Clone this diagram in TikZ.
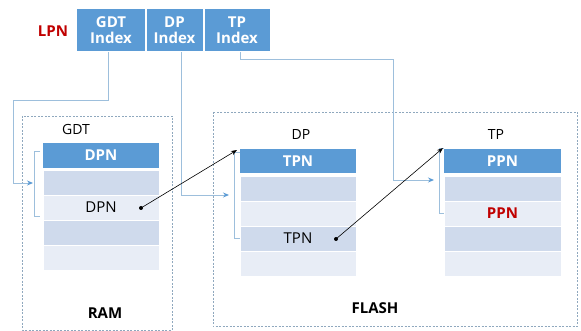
\documentclass[tikz,border=0pt]{standalone}
\usepackage{fontspec}
\setmainfont{Open Sans}
\usetikzlibrary{arrows.meta}
\definecolor{hdrblue}{HTML}{5B9BD5}
\definecolor{rowdark}{HTML}{CFDAEC}
\definecolor{rowlight}{HTML}{E8EDF6}
\definecolor{conn}{HTML}{9DBFDC}
\definecolor{dashc}{HTML}{8FA8BE}
\definecolor{lpnred}{HTML}{C00000}
\tikzset{
  idx/.style={rectangle, fill=hdrblue, draw=white, line width=0.8pt, inner sep=0pt, align=center,
     text=white, font=\fontsize{15}{18}\selectfont\bfseries},
  hdr/.style={rectangle, fill=hdrblue, inner sep=0pt, minimum height=24.5pt, text=white,
     font=\fontsize{15}{18}\selectfont\bfseries},
  rowd/.style={rectangle, fill=rowdark, draw=white, line width=0.8pt, inner sep=0pt, minimum height=25pt,
     font=\fontsize{15}{18}\selectfont},
  rowl/.style={rowd, fill=rowlight},
  lbl/.style={inner sep=0pt, font=\fontsize{14}{17}\selectfont},
  area/.style={draw=dashc, line width=0.7pt, dash pattern=on 2pt off 1.5pt},
  arealbl/.style={inner sep=0pt, font=\fontsize{15}{18}\selectfont\bfseries},
  link/.style={draw=conn, line width=0.9pt},
  linkarr/.style={link, -{Stealth[length=6pt,width=5pt,color=hdrblue]}},
  brk/.style={draw=conn, line width=0.9pt},
  ptr/.style={draw=black, line width=0.6pt, -{Stealth[length=6pt,width=4.5pt]}},
  dot/.style={circle, fill=black, inner sep=0pt, minimum size=4pt}
}
\begin{document}
\begin{tikzpicture}[x=1pt,y=-1pt]
\useasboundingbox (0,0) rectangle (581,331);

% areas
\draw[area] (22,116) rectangle (172,330);
\draw[area] (213,112) rectangle (577,326.5);
\node[arealbl] (ram) at (105,313) {RAM};
\node[arealbl] (flash) at (375,308) {FLASH};

% LPN
\node[inner sep=0pt, text=lpnred, font=\fontsize{15}{18}\selectfont\bfseries] (lpn) at (53,31) {LPN};
\node[idx, minimum width=69pt, minimum height=43.5pt] (gdti) at (111,30) {GDT\\[-2pt]Index};
\node[idx, minimum width=57pt, minimum height=43.5pt] (dpi) at (174.5,30) {DP\\[-2pt]Index};
\node[idx, minimum width=66pt, minimum height=43.5pt] (tpi) at (237,30) {TP\\[-2pt]Index};

% GDT table
\node[lbl] (gdtl) at (76,130) {GDT};
\node[hdr, minimum width=116pt] (g0) at (101,155.5) {DPN};
\node[rowd, minimum width=116pt] (g1) at (101,182.5) {};
\node[rowl, minimum width=116pt] (g2) at (101,207.5) {\mbox{}DPN\hspace{12pt}};
\node[rowd, minimum width=116pt] (g3) at (101,232.5) {};
\node[rowl, minimum width=116pt] (g4) at (101,257.5) {};

% DP table
\node[lbl] (dpl) at (301,135) {DP};
\node[hdr, minimum width=116pt] (d0) at (298,161) {TPN};
\node[rowd, minimum width=116pt] (d1) at (298,188.5) {};
\node[rowl, minimum width=116pt] (d2) at (298,213.5) {};
\node[rowd, minimum width=116pt] (d3) at (298,238.5) {\mbox{}TPN\hspace{12pt}};
\node[rowl, minimum width=116pt] (d4) at (298,263.5) {};

% TP table
\node[lbl] (tpl) at (496,135) {TP};
\node[hdr, minimum width=117pt] (t0) at (502.5,161) {PPN};
\node[rowd, minimum width=117pt] (t1) at (502.5,188.5) {};
\node[rowl, minimum width=117pt, text=lpnred, font=\fontsize{15}{18}\selectfont\bfseries] (t2) at (502.5,213.5) {PPN};
\node[rowd, minimum width=117pt] (t3) at (502.5,238.5) {};
\node[rowl, minimum width=117pt] (t4) at (502.5,263.5) {};

% brackets
\coordinate (gb) at (34,183);
\coordinate (db) at (234,195);
\coordinate (tb) at (439,180);
\draw[brk] (40,151) -- (34,151) -- (34,216) -- (40,216);
\draw[brk] (240,152) -- (234,152) -- (234,238) -- (240,238);
\draw[brk] (444,148) -- (439,148) -- (439,213) -- (444,213);

% index connectors
\draw[linkarr] ([xshift=-3pt]gdti.south) -- ++(0,48) -| (13,183) -- ([xshift=-1pt]gb);
\draw[linkarr] ([xshift=6.5pt]dpi.south) |- ([xshift=-5pt]db);
\draw[linkarr] ([xshift=3pt]tpi.south) -- ++(0,7) -| (393,180) -- ([xshift=-5pt]tb);

% pointers
\node[dot] (gdot) at (141,208) {};
\node[dot] (ddot) at (336,239) {};
\coordinate (dtop) at (237,150);
\coordinate (ttop) at (443,148);
\draw[ptr] (gdot.center) -- (dtop);
\draw[ptr] (ddot.center) -- (ttop);
\end{tikzpicture}
\end{document}
